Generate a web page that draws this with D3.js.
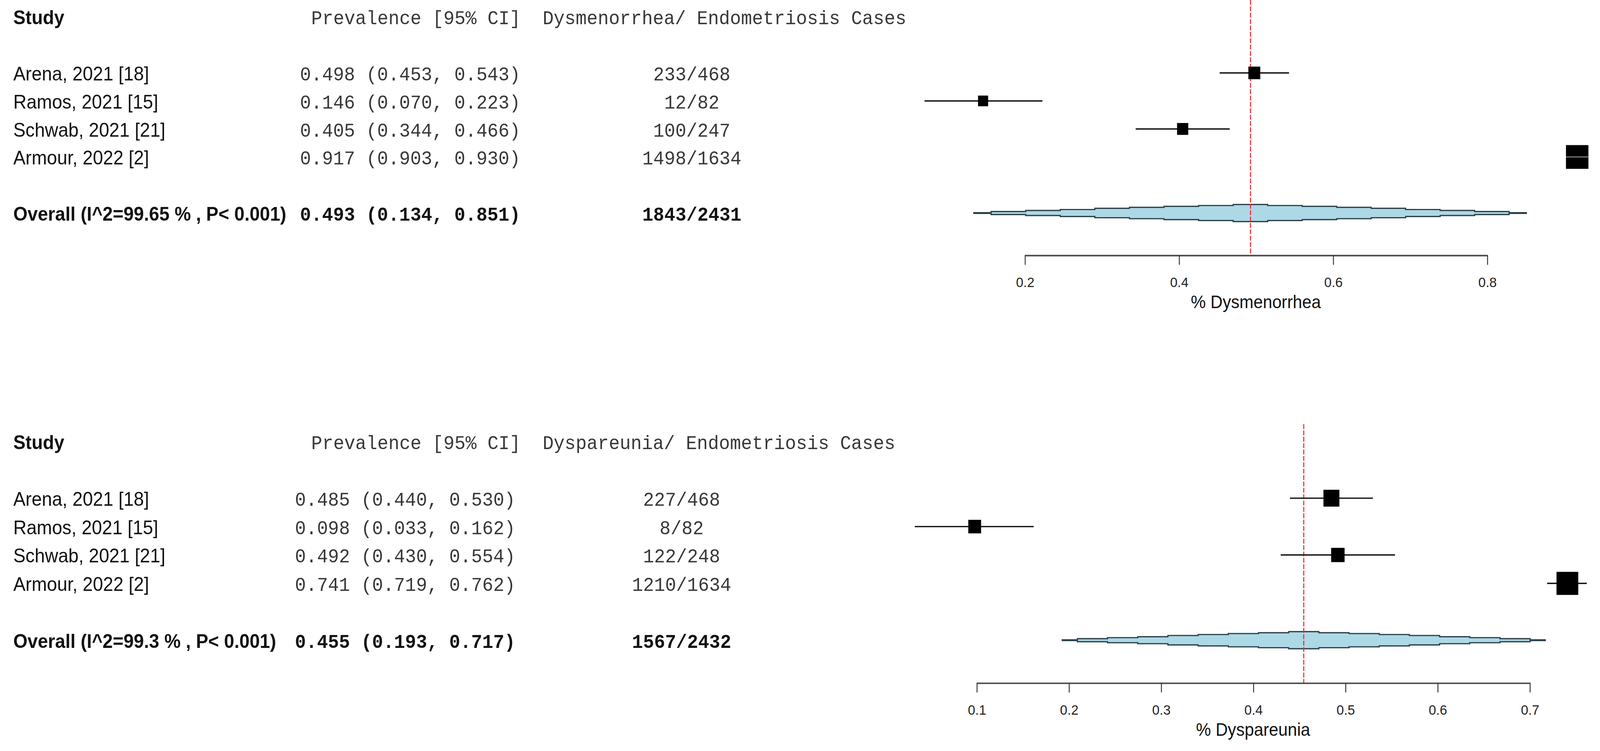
<!DOCTYPE html>
<html>
<head>
<meta charset="utf-8">
<script src="https://cdn.jsdelivr.net/npm/d3@7"></script>
<style>
  html, body { margin: 0; padding: 0; background: #fff; overflow: hidden; }
  svg { display: block; width: 100vw; height: 100vh; }
</style>
</head>
<body>
<div id="chart"></div>
<script>
// studies (same four in both panels)
const studies = ["Arena, 2021 [18]", "Ramos, 2021 [15]", "Schwab, 2021 [21]", "Armour, 2022 [2]"];

// panel 1 — dysmenorrhea
const dysEst   = [0.498, 0.146, 0.405, 0.917];
const dysLo    = [0.453, 0.070, 0.344, 0.903];
const dysHi    = [0.543, 0.223, 0.466, 0.930];
const dysCases = [233, 12, 100, 1498];
const dysTotal = [468, 82, 247, 1634];
const dysWeight = [0.53, 0.45, 0.50, 1.0];     // relative box weight
const dysSummary = [0.493, 0.134, 0.851];      // est, lower, upper
const dysSumCounts = [1843, 2431];
const dysI2 = "99.65";
const dysTicks = [0.2, 0.4, 0.6, 0.8];

// panel 2 — dyspareunia
const dpEst   = [0.485, 0.098, 0.492, 0.741];
const dpLo    = [0.440, 0.033, 0.430, 0.719];
const dpHi    = [0.530, 0.162, 0.554, 0.762];
const dpCases = [227, 8, 122, 1210];
const dpTotal = [468, 82, 248, 1634];
const dpWeight = [0.71, 0.57, 0.60, 0.97];
const dpSummary = [0.455, 0.193, 0.717];
const dpSumCounts = [1567, 2432];
const dpI2 = "99.3";
const dpTicks = [0.1, 0.2, 0.3, 0.4, 0.5, 0.6, 0.7];

const pValue = "0.001";

// stepped shape of the summary polygon (fraction of half-CI, half-height)
const polyFrac = [1, 0.9375, 0.8125, 0.6875, 0.5625, 0.4375, 0.3125, 0.1875, 0.0625];
const polyHalf = [0.35, 1.4, 2.35, 3.25, 4.35, 5.25, 6.15, 6.95, 7.9];

const W = 4336, H = 1923;
const VW = 1568, VH = VW * H / W;

const SANS = '"Liberation Sans", Arial, Helvetica, sans-serif';
const MONO = '"Liberation Mono", "Courier New", monospace';
const FS_SANS = 18, FS_MONO = 18;

const fmt = d3.format(".3f");
const boxScale = d3.scaleLinear().domain([0, 1]).range([0, 22]);

// fills the window whatever its inner size turns out to be
const svg = d3.select("#chart").append("svg")
    .attr("viewBox", `0 0 ${VW} ${VH}`)
    .attr("preserveAspectRatio", "none");

function drawPanel(p) {
  const g = svg.append("g");
  const x = d3.scaleLinear().domain(d3.extent(p.ticks)).range(p.xRange);
  const rowY = i => p.y0 + i * p.step;
  const n = p.est.length;
  const headY = rowY(-2);
  const sumY = rowY(n + 1);
  const [sEst, sLo, sHi] = p.summary;

  const text = (tx, ty, str, mono, bold, anchor) => g.append("text")
      .attr("x", tx)
      .attr("y", ty)
      .attr("font-family", mono ? MONO : SANS)
      .attr("font-size", mono ? FS_MONO : FS_SANS)
      .attr("font-weight", bold ? "bold" : "normal")
      .attr("fill", mono && !bold ? "#383838" : "#111")
      .attr("text-anchor", anchor || "start")
      .style("white-space", "pre")
      .text(str);

  // headers
  text(13, headY + 7, "Study", false, true);
  text(p.headerX, headY + 7,
       `Prevalence [95% CI]  ${p.outcome}/ Endometriosis Cases`, true, false);

  // study rows
  studies.forEach((s, i) => {
    const y = rowY(i) + 7;
    text(13, y, s, false, false);
    text(p.prevEnd, y, `${fmt(p.est[i])} (${fmt(p.lo[i])}, ${fmt(p.hi[i])})`, true, false, "end");
    text(p.casesX, y, `${p.cases[i]}/${p.total[i]}`, true, false, "middle");
  });

  // overall row
  text(13, sumY + 7, `Overall (I^2=${p.i2} % , P< ${pValue})`, false, true);
  text(p.prevEnd, sumY + 7, `${fmt(sEst)} (${fmt(sLo)}, ${fmt(sHi)})`, true, true, "end");
  text(p.casesX, sumY + 7, `${p.sumCounts[0]}/${p.sumCounts[1]}`, true, true, "middle");

  // summary polygon, stepped
  const L = f => x(sEst - f * (sEst - sLo));
  const R = f => x(sEst + f * (sHi - sEst));
  const last = polyFrac.length - 1;
  const upper = [];
  for (let i = 0; i <= last; i++) {
    upper.push([L(polyFrac[i]), sumY - polyHalf[i]]);
    if (i < last) upper.push([L(polyFrac[i + 1]), sumY - polyHalf[i]]);
  }
  upper.push([R(polyFrac[last]), sumY - polyHalf[last]]);
  for (let i = last - 1; i >= 0; i--) {
    upper.push([R(polyFrac[i + 1]), sumY - polyHalf[i]]);
    upper.push([R(polyFrac[i]), sumY - polyHalf[i]]);
  }
  const lower = upper.map(([px, py]) => [px, 2 * sumY - py]).reverse();
  g.append("path")
      .attr("d", d3.line()(upper.concat(lower)) + "Z")
      .attr("fill", "#add8e6")
      .attr("stroke", "#2b4047")
      .attr("stroke-width", 1.15)
      .attr("stroke-linejoin", "miter");

  // reference line at pooled estimate
  g.append("line")
      .attr("x1", x(sEst)).attr("x2", x(sEst))
      .attr("y1", p.refTop).attr("y2", p.axisY)
      .attr("stroke", "#f2242c")
      .attr("stroke-width", 1.0)
      .attr("stroke-dasharray", "4.5,1.4");

  // CI lines
  g.selectAll(".ci").data(p.est).join("line")
      .attr("x1", (d, i) => x(p.lo[i]))
      .attr("x2", (d, i) => x(p.hi[i]))
      .attr("y1", (d, i) => rowY(i))
      .attr("y2", (d, i) => rowY(i))
      .attr("stroke", "#111")
      .attr("stroke-width", 1.25);

  // boxes
  g.selectAll(".box").data(p.est).join("rect")
      .attr("x", (d, i) => x(d) - boxScale(p.weight[i]) / 2)
      .attr("y", (d, i) => rowY(i) - boxScale(p.weight[i]) / 2)
      .attr("width", (d, i) => boxScale(p.weight[i]))
      .attr("height", (d, i) => boxScale(p.weight[i]))
      .attr("fill", "#000");

  // CI hidden inside its box shows as a light stripe
  p.est.forEach((d, i) => {
    const half = boxScale(p.weight[i]) / 2;
    if (x(p.lo[i]) >= x(d) - half && x(p.hi[i]) <= x(d) + half) {
      g.append("line")
          .attr("x1", x(d) - half).attr("x2", x(d) + half)
          .attr("y1", rowY(i)).attr("y2", rowY(i))
          .attr("stroke", "#9a9a9a")
          .attr("stroke-width", 0.8);
    }
  });

  // x axis
  const axis = d3.axisBottom(x)
      .tickValues(p.ticks)
      .tickSize(9)
      .tickSizeOuter(0)
      .tickPadding(11.5)
      .tickFormat(d3.format(".1f"));
  const ag = g.append("g")
      .attr("transform", `translate(0,${p.axisY})`)
      .call(axis);
  ag.select(".domain").attr("stroke", "#4a4a4a").attr("stroke-width", 1.4);
  ag.selectAll(".tick line").attr("stroke", "#333").attr("stroke-width", 0.9);
  ag.selectAll(".tick text")
      .attr("font-family", SANS)
      .attr("font-size", 13)
      .attr("fill", "#222");

  g.append("text")
      .attr("x", (p.xRange[0] + p.xRange[1]) / 2)
      .attr("y", p.axisY + 49)
      .attr("text-anchor", "middle")
      .attr("font-family", SANS)
      .attr("font-size", 16.5)
      .attr("fill", "#111")
      .text(`% ${p.outcome}`);
}

drawPanel({
  est: dysEst, lo: dysLo, hi: dysHi, cases: dysCases, total: dysTotal, weight: dysWeight,
  summary: dysSummary, sumCounts: dysSumCounts, i2: dysI2, ticks: dysTicks,
  outcome: "Dysmenorrhea",
  y0: 67.5, step: 25.95, xRange: [1004.2, 1457.3], axisY: 236.2,
  headerX: 305, prevEnd: 510, casesX: 678, refTop: 0
});

drawPanel({
  est: dpEst, lo: dpLo, hi: dpHi, cases: dpCases, total: dpTotal, weight: dpWeight,
  summary: dpSummary, sumCounts: dpSumCounts, i2: dpI2, ticks: dpTicks,
  outcome: "Dyspareunia",
  y0: 461.3, step: 26.3, xRange: [957, 1499], axisY: 632.2,
  headerX: 305, prevEnd: 505, casesX: 668, refTop: 392.7
});
</script>
</body>
</html>
